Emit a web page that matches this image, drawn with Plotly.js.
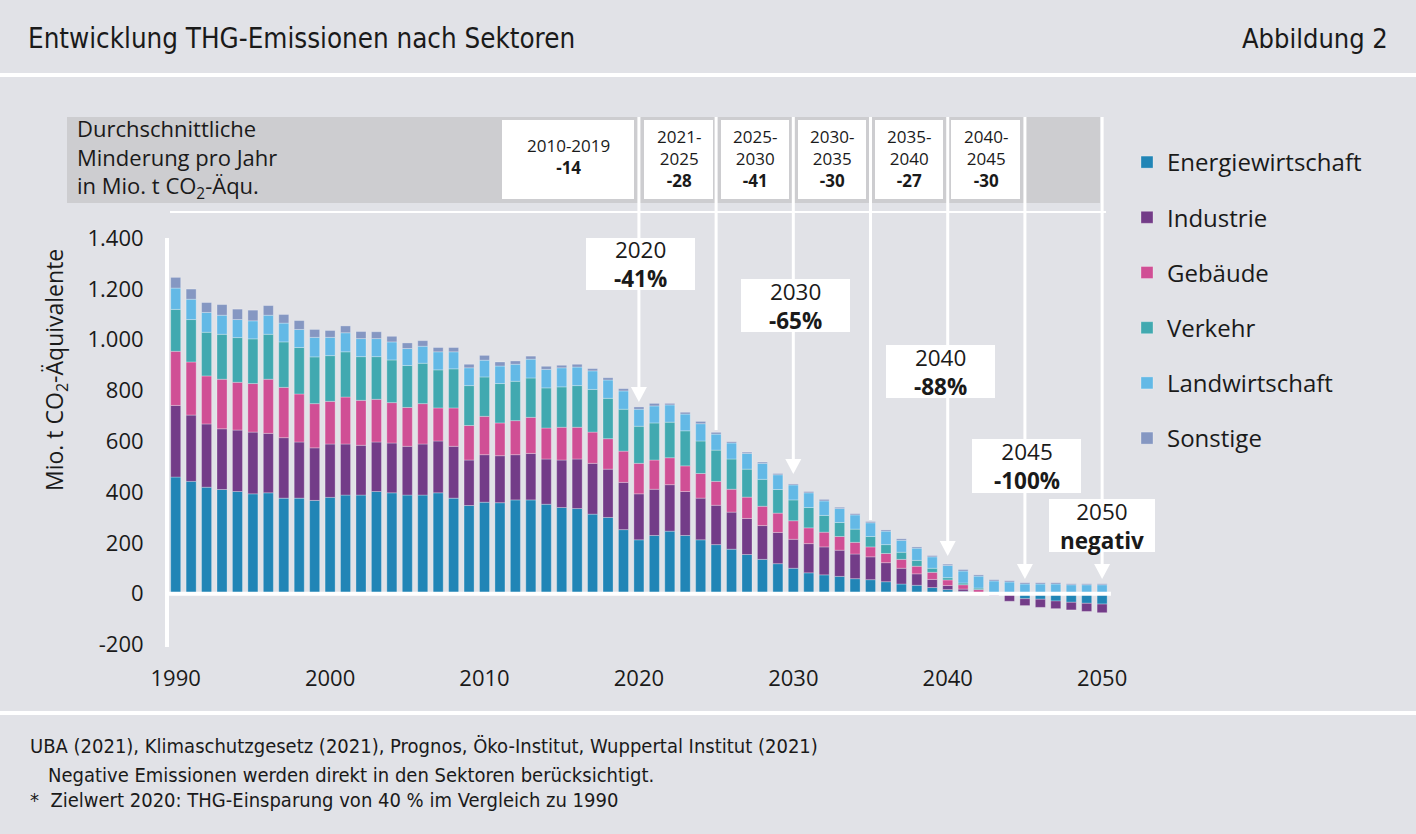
<!DOCTYPE html>
<html>
<head>
<meta charset="utf-8">
<script src="https://cdn.plot.ly/plotly-3.0.1.min.js"></script>
<style>
html,body{margin:0;padding:0;background:#e1e2e7;}
#chart{width:1416px;height:834px;}
</style>
</head>
<body>
<div id="chart"></div>
<script>
// ---------------- DATA ----------------
const years = [1990,1991,1992,1993,1994,1995,1996,1997,1998,1999,
  2000,2001,2002,2003,2004,2005,2006,2007,2008,2009,
  2010,2011,2012,2013,2014,2015,2016,2017,2018,2019,
  2020,2021,2022,2023,2024,2025,2026,2027,2028,2029,
  2030,2031,2032,2033,2034,2035,2036,2037,2038,2039,
  2040,2041,2042,2043,2044,2045,2046,2047,2048,2049,2050];

const energiewirtschaft = [459,442,419,410,402,393,397,376,376,367,
  379,388,388,402,397,388,388,397,376,347,
  360,358,369,369,352,339,335,313,300,252,
  212,229,246,229,212,193,175,154,135,118,
  100,82,74,68,59,55,47,38,33,24,
  16,9,0,0,0,-20,-22,-29,-34,-38,-41];

const industrie = [282,261,249,239,242,243,234,238,221,207,
  210,201,196,195,196,192,201,204,204,179,
  187,185,178,183,178,187,195,200,190,186,
  181,182,183,173,164,155,146,142,133,123,
  114,115,110,103,97,90,75,62,45,32,
  16,9,2,-8,-30,-27,-32,-30,-30,-32,-34];

const gebaeude = [213,209,189,195,188,191,213,198,189,174,
  168,185,177,168,159,153,159,130,151,136,
  151,129,134,142,122,129,125,123,120,123,
  120,115,106,101,97,94,90,84,76,76,
  73,62,58,54,46,39,36,35,30,28,
  22,17,14,0,0,0,0,0,0,0,0];

const verkehr = [165,167,172,177,176,176,177,179,183,184,
  180,178,172,168,168,165,159,150,154,157,
  155,155,155,155,158,159,164,168,159,165,
  146,146,140,138,128,123,119,110,106,93,
  82,80,66,55,52,41,35,28,23,16,
  9,7,6,3,0,0,0,0,0,0,0];

const landwirtschaft = [84,80,78,75,71,71,75,74,71,77,
  72,75,71,71,71,67,67,71,67,70,
  66,69,67,74,73,75,73,73,72,72,
  67,67,68,66,68,63,63,62,63,58,
  59,58,57,55,56,54,53,47,48,45,
  48,47,47,47,46,38,38,38,35,35,35];

const sonstige = [42,40,39,42,41,42,38,34,35,31,
  27,27,28,27,22,22,22,17,17,14,
  19,16,13,12,12,10,11,9,9,9,
  9,10,6,7,9,7,5,5,5,5,
  4,5,6,5,5,5,5,6,5,5,
  5,6,5,5,5,5,5,5,4,4,4];

const sectorNames = ["Energiewirtschaft","Industrie","Gebäude","Verkehr","Landwirtschaft","Sonstige"];
const sectorColors = ["#2185b6","#733c88","#d04f95","#41a9b0","#63b9e6","#8597c2"];
const sectorSeries = [energiewirtschaft, industrie, gebaeude, verkehr, landwirtschaft, sonstige];

const yTickVals = [-200,0,200,400,600,800,1000,1200,1400];
const yTickText = ["-200","0","200","400","600","800","1.000","1.200","1.400"];
const xTickVals = [1990,2000,2010,2020,2030,2040,2050];

const periodBoxes = [
  {label:"2010-2019", value:"-14"},
  {label:"2021-<br>2025", value:"-28"},
  {label:"2025-<br>2030", value:"-41"},
  {label:"2030-<br>2035", value:"-30"},
  {label:"2035-<br>2040", value:"-27"},
  {label:"2040-<br>2045", value:"-30"}
];
const milestones = [
  {year:2020, label:"2020", value:"-41%"},
  {year:2030, label:"2030", value:"-65%"},
  {year:2040, label:"2040", value:"-88%"},
  {year:2045, label:"2045", value:"-100%"},
  {year:2050, label:"2050", value:"negativ"}
];

// ---------------- LAYOUT GEOMETRY ----------------
const W = 1416, H = 834;
const PL = 165, PR = 1112, PT = 238, PB = 647;
const XMIN = 1989.307, XMAX = 2050.64;
const YMIN = -210, YMAX = 1400;
const PX = px => (px - PL) / (PR - PL);
const PY = py => (PB - py) / (PB - PT);
const YX = yr => (yr - XMIN) / (XMAX - XMIN);          // year -> paper x

const FONT = "'Open Sans', 'Noto Sans', sans-serif";
const NARROW = "'DejaVu Sans Condensed', 'Liberation Sans Narrow', 'Open Sans', sans-serif";
const TXT = "#1a1a1a";

// ---------------- TRACES ----------------
const traces = sectorNames.map((n, i) => ({
  type: "bar",
  name: n,
  x: years,
  y: sectorSeries[i],
  width: 0.65,
  legendgroup: "g" + i,
  marker: {color: sectorColors[i], line: {color: "rgba(255,255,255,0.28)", width: 1}},
  hoverinfo: "x+y+name"
}));

// ---------------- SHAPES ----------------
const shapes = [];
const rectPx = (x0, y0, x1, y1, fill) => shapes.push({type:"rect", xref:"paper", yref:"paper",
  x0:PX(x0), x1:PX(x1), y0:PY(y1), y1:PY(y0), fillcolor:fill, line:{width:0}, layer:"above"});
const linePx = (x0, y0, x1, y1, w) => shapes.push({type:"line", xref:"paper", yref:"paper",
  x0:PX(x0), x1:PX(x1), y0:PY(y0), y1:PY(y1), line:{color:"#ffffff", width:w}, layer:"above"});

// separators
linePx(0, 75, W, 75, 4);
linePx(0, 713, W, 713, 4);

// top band
rectPx(67, 117, 1100, 203, "#cdcdd0");
// horizontal white line under band
linePx(170, 212, 1106, 212, 2);

// vertical guide lines (year -> pixel via axis)
const yearPx = yr => PL + YX(yr) * (PR - PL);
const guideEnds = [
  {year:2020, end:388, arrow:true},
  {year:2025, end:430, arrow:false},
  {year:2030, end:460, arrow:true},
  {year:2035, end:520, arrow:false},
  {year:2040, end:542, arrow:true},
  {year:2045, end:565, arrow:true},
  {year:2050, end:565, arrow:true}
];
guideEnds.forEach(g => {
  const xp = yearPx(g.year);
  linePx(xp, 117, xp, g.end, 3);
  if (g.arrow) {
    const a = PX(xp - 8), b = PX(xp + 8), c = PX(xp), t = PY(g.end - 1), tip = PY(g.end + 14);
    shapes.push({type:"path", xref:"paper", yref:"paper",
      path:`M ${a},${t} L ${b},${t} L ${c},${tip} Z`, fillcolor:"#ffffff", line:{width:0}, layer:"above"});
  }
});

// period boxes
const periodPx = [[502,634],[644,713],[721,789],[798,866],[875,943],[951,1020]];
periodPx.forEach(p => rectPx(p[0], 120, p[1], 199, "#ffffff"));

// milestone boxes
const milePx = [[586,238,695,290],[741,279,850,332],[886,345,995,398],[972,439,1081,493],[1049,499,1155,552]];
milePx.forEach(m => rectPx(m[0], m[1], m[2], m[3], "#ffffff"));

// axes lines (zero line + vertical axis)
shapes.push({type:"line", xref:"paper", yref:"y", x0:PX(167), x1:PX(1111), y0:0, y1:0,
  line:{color:"#ffffff", width:4}, layer:"above"});
linePx(167, 238, 167, 647, 4);

// ---------------- ANNOTATIONS ----------------
const ann = [];
const textPx = (x, y, text, size, opts={}) => ann.push(Object.assign({
  xref:"paper", yref:"paper", x:PX(x), y:PY(y), text:text, showarrow:false,
  font:{family:FONT, size:size, color:TXT}, xanchor:"left", yanchor:"middle"}, opts));

textPx(1390, 38, "Abbildung 2", 27, {xanchor:"right", font:{family:NARROW, size:27, color:TXT}});
textPx(75, 158, "Durchschnittliche<br>Minderung pro Jahr<br>in Mio. t CO<sub>2</sub>-Äqu.", 22, {align:"left"});

periodBoxes.forEach((p, i) => {
  const [x0, x1] = periodPx[i];
  const oneLine = p.label.indexOf("<br>") < 0;
  textPx((x0 + x1) / 2, oneLine ? 157 : 158, p.label + "<br><b>" + p.value + "</b>", 17,
    {xanchor:"center", align:"center"});
});

milestones.forEach((m, i) => {
  const b = milePx[i];
  textPx((b[0] + b[2]) / 2, (b[1] + b[3]) / 2, m.label + "<br><b>" + m.value + "</b>", 22.5,
    {xanchor:"center", align:"center"});
});

// y axis title
textPx(55, 370, "Mio. t CO<sub>2</sub>-Äquivalente", 23, {xanchor:"center", textangle:-90});

// footer
const footFont = {family:NARROW, size:20, color:TXT};
textPx(28, 746, "UBA (2021), Klimaschutzgesetz (2021), Prognos, Öko-Institut, Wuppertal Institut (2021)", 20,
  {font:footFont});
textPx(46, 775, "Negative Emissionen werden direkt in den Sektoren berücksichtigt.", 20, {font:footFont});
textPx(28, 800, "*  Zielwert 2020: THG-Einsparung von 40 % im Vergleich zu 1990", 20, {font:footFont});

const layout = {
  width: W, height: H,
  paper_bgcolor: "#e1e2e7", plot_bgcolor: "#e1e2e7",
  margin: {l: PL, r: W - PR, t: PT, b: H - PB, pad: 0},
  barmode: "relative",
  bargap: 0,
  title: {text: "Entwicklung THG-Emissionen nach Sektoren", xref: "container", yref: "container",
    x: 28 / W, xanchor: "left", y: 1 - 38 / H, yanchor: "middle",
    font: {family: NARROW, size: 27.5, color: TXT}},
  xaxis: {range: [XMIN, XMAX], tickvals: xTickVals, showgrid: false, zeroline: false, showline: false,
    ticks: "outside", ticklen: 12, tickcolor: "rgba(0,0,0,0)",
    tickfont: {family: FONT, size: 22, color: TXT}, fixedrange: true},
  yaxis: {range: [YMIN, YMAX], tickvals: yTickVals, ticktext: yTickText, showgrid: false,
    zeroline: false, showline: false, ticks: "outside", ticklen: 16, tickcolor: "rgba(0,0,0,0)",
    tickfont: {family: FONT, size: 22, color: TXT}, fixedrange: true},
  showlegend: true,
  legend: {x: PX(1127), y: PY(140), xanchor: "left", yanchor: "top", traceorder: "grouped",
    tracegroupgap: 21, bgcolor: "rgba(0,0,0,0)", font: {family: FONT, size: 24, color: TXT}},
  shapes: shapes,
  annotations: ann
};

Plotly.newPlot("chart", traces, layout, {displayModeBar: false, staticPlot: true});
</script>
</body>
</html>
